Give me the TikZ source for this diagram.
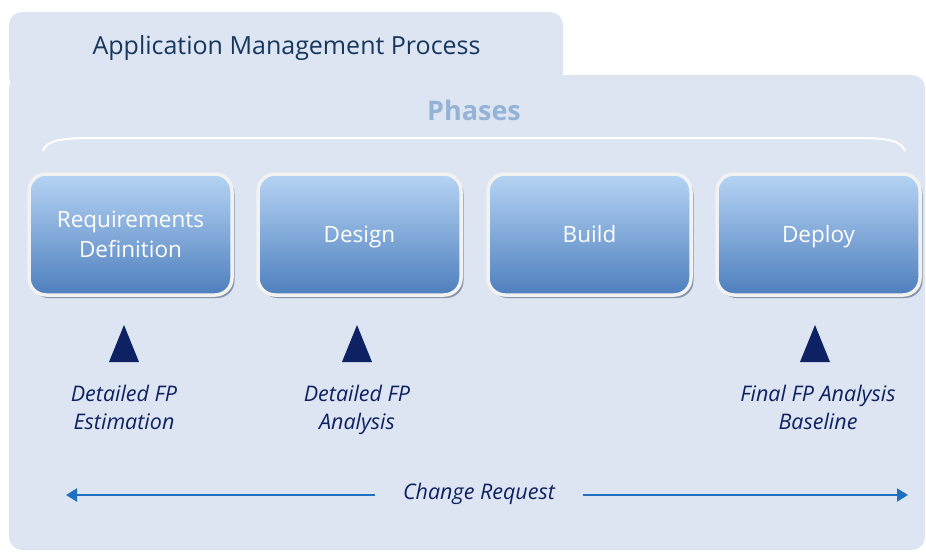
\documentclass[tikz,border=0pt]{standalone}
\usepackage{fontspec}
\setmainfont{Open Sans}
\usetikzlibrary{arrows.meta,shadows}
\definecolor{panel}{HTML}{DCE5F1}
\definecolor{titlec}{HTML}{17375E}
\definecolor{phasec}{HTML}{95B3D7}
\definecolor{navy}{HTML}{0E2163}
\definecolor{arrowc}{HTML}{1F70C1}
\definecolor{boxtop}{HTML}{B6D4F4}
\definecolor{boxbot}{HTML}{4E7FBD}
\definecolor{rimc}{HTML}{F2F2F2}
\definecolor{shadc}{HTML}{8796AB}
\tikzset{
  phasebox/.style={rounded corners=17pt, draw=rimc, line width=3.5pt,
    top color=boxtop, bottom color=boxbot, minimum width=203pt, minimum height=121pt,
    text=white, align=center, font=\fontsize{22.5}{30}\selectfont, inner sep=0pt,
    drop shadow={shadow xshift=2.5pt, shadow yshift=-3pt, fill=shadc, opacity=1}},
  oneline/.style={text height=16pt, text depth=0pt},
  milestone/.style={fill=navy, draw=none},
  mlabel/.style={text=navy, align=center, font=\fontsize{21.5}{28}\selectfont\itshape, inner sep=0pt},
  twoline/.style={text height=16pt, text depth=34pt},
  crarrow/.style={draw=arrowc, line width=2.2pt, -{Triangle[width=13pt,length=11pt]}}
}
\begin{document}
\begin{tikzpicture}[x=1pt,y=-1pt]
\useasboundingbox (0,0) rectangle (926,555);
% panel
\fill[panel, rounded corners=13pt] (9,90) -- (9,12) -- (563,12) -- (563,90) -- cycle;
\fill[panel, rounded corners=13pt] (9,75) rectangle (925,550);
\node[text=titlec, font=\fontsize{25}{28}\selectfont, anchor=west] (title) at (89,48) {Application Management Process};
\node[text=phasec, font=\fontsize{27}{30}\selectfont\bfseries] (phases) at (474,110) {Phases};
\draw[white, line width=2pt] (43,151) .. controls (46,141) and (60,138) .. (90,138) -- (858,138) .. controls (888,138) and (902,141) .. (905,151);
% boxes
\node[phasebox] (req) at (130.5,234.5) {Requirements\\Definition};
\node[phasebox, oneline] (des) at (359.5,234.5) {Design};
\node[phasebox, oneline] (bld) at (589.5,234.5) {Build};
\node[phasebox, oneline] (dep) at (818.5,234.5) {Deploy};
% milestones
\fill[milestone] (109,362) -- (124,325) -- (139,362) -- cycle;
\fill[milestone] (342,362) -- (357,325) -- (372,362) -- cycle;
\fill[milestone] (800,362) -- (815,325) -- (830,362) -- cycle;
\node[mlabel, twoline] (l1) at (124,438) {Detailed FP\\Estimation};
\node[mlabel, twoline] (l2) at (357,438) {Detailed FP\\Analysis};
\node[mlabel, twoline] (l3) at (818,438) {Final FP Analysis\\Baseline};
% change request
\node[mlabel, oneline] (cr) at (479,491) {Change Request};
\coordinate (lt) at (66,495);
\coordinate (rt) at (908,495);
\coordinate (ls) at (375,495);
\coordinate (rs) at (583,495);
\draw[crarrow] (ls) -- (lt);
\draw[crarrow] (rs) -- (rt);
\end{tikzpicture}
\end{document}
